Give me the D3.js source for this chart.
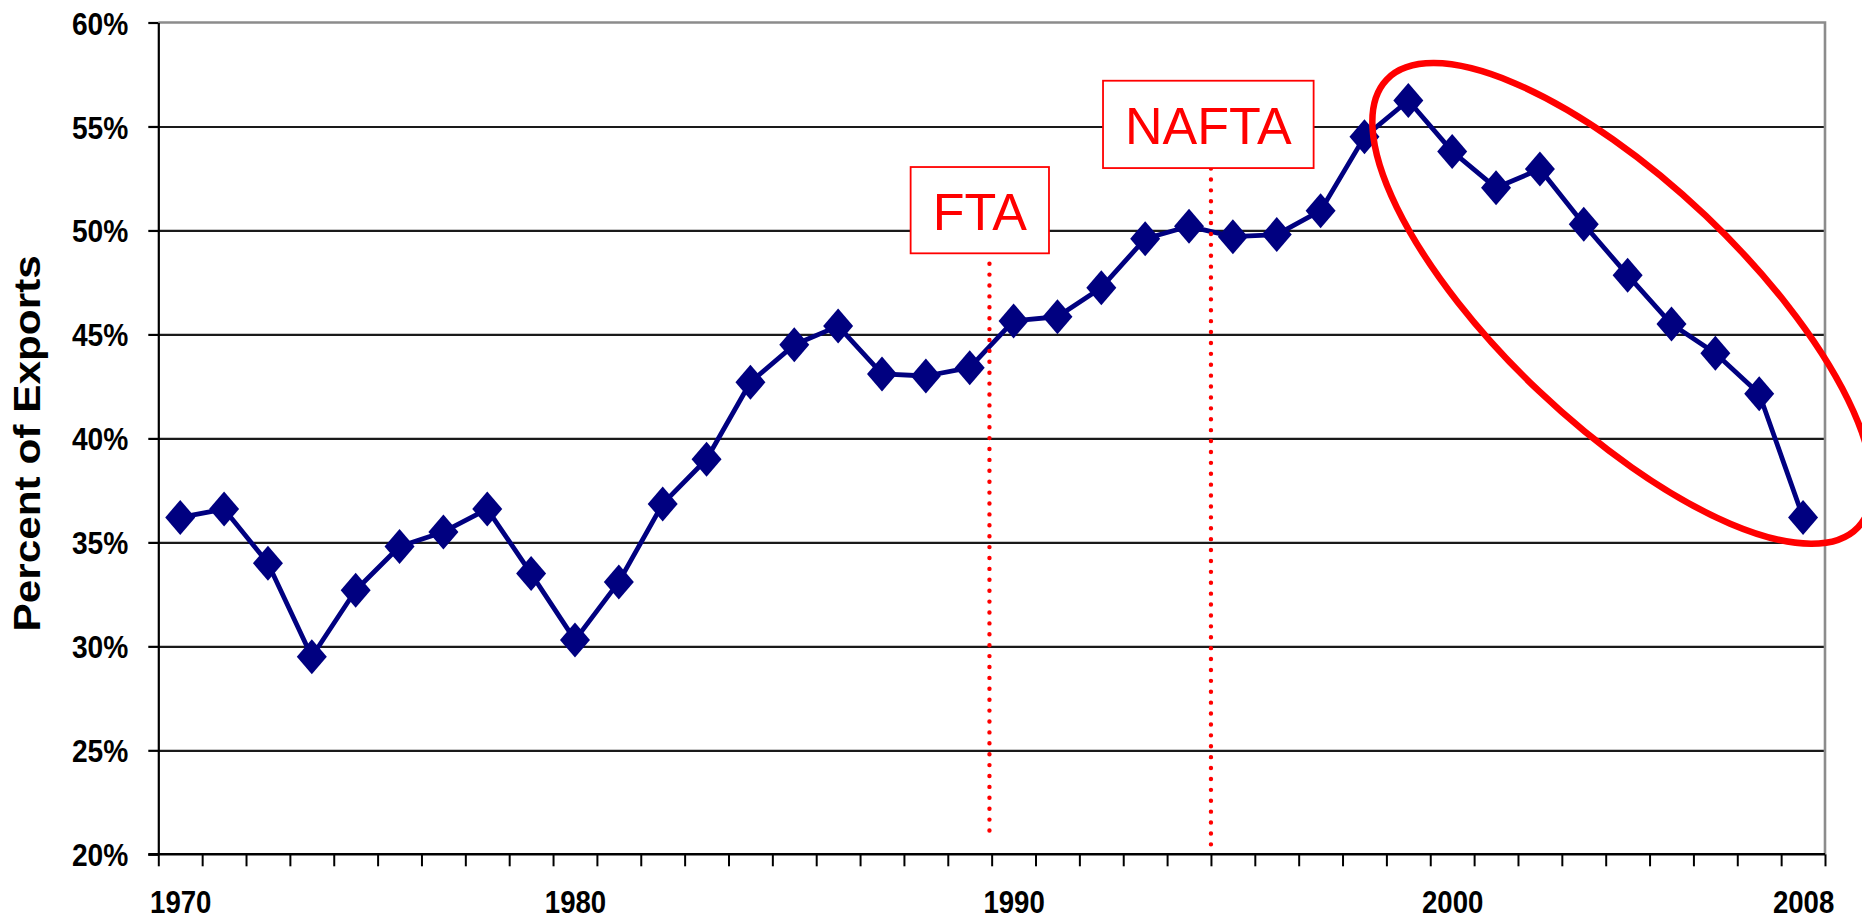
<!DOCTYPE html>
<html><head><meta charset="utf-8">
<script src="https://cdn.jsdelivr.net/npm/d3@7"></script>
<style>html,body{margin:0;padding:0;background:#fff;overflow:hidden}</style>
</head><body>
<svg id="chart" width="1862" height="920"></svg>
<script>
// ---- data ----
const years = [1971,1972,1973,1974,1975,1976,1977,1978,1979,1980,
  1981,1982,1983,1984,1985,1986,1987,1988,1989,1990,
  1991,1992,1993,1994,1995,1996,1997,1998,1999,2000,
  2001,2002,2003,2004,2005,2006,2007,2008];
const exportShare = [36.2,36.6,34.0,29.5,32.7,34.8,35.5,36.6,33.5,30.3,
  33.1,36.85,39.0,42.7,44.5,45.4,43.1,43.0,43.4,45.65,
  45.85,47.25,49.6,50.2,49.7,49.8,50.95,54.5,56.25,53.8,
  52.05,52.95,50.3,47.85,45.5,44.1,42.15,36.2];
const yTicks = [20,25,30,35,40,45,50,55,60];
const xTickYears = [1971,1980,1990,2000,2008];
const xTickLabels = ["1970","1980","1990","2000","2008"];
const eventNames = ["FTA","NAFTA"];
const eventYears = [1989.45,1994.5];
const eventLineTop = [48.4,54.55];
const eventLineBottom = [20.9,20.2];
const eventBoxTop = [53.05,57.2];
const eventBoxBottom = [48.9,53.0];
const eventBoxYear = [1989.23,1994.44];
const yTitle = "Percent of Exports";
const highlightCenter = [2003.88,46.49];

// ---- layout ----
const W = 1862, H = 920;
const L = 158.3, R = 1825, T = 22.5, B = 854.3;
const FONT = "'Liberation Sans', Arial, Helvetica, sans-serif";
const svg = d3.select("#chart");
svg.append("rect").attr("width",W).attr("height",H).attr("fill","#fff");

const x = d3.scaleLinear().domain([years[0]-0.5, years[years.length-1]+0.5]).range([L,R]);
const y = d3.scaleLinear().domain([yTicks[0], yTicks[yTicks.length-1]]).range([B,T]);

// gridlines
const grid = svg.append("g").attr("transform",`translate(${L},0)`)
  .call(d3.axisLeft(y).tickValues(yTicks.slice(1,-1)).tickSize(-(R-L)).tickFormat(""));
grid.select(".domain").remove();
grid.selectAll("line").attr("stroke","#1a1a1a").attr("stroke-width",2.2);

// plot border top/right (gray)
svg.append("path")
  .attr("d",`M${L},${y(yTicks[yTicks.length-1])}H${R}V${B}`)
  .attr("fill","none").attr("stroke","#8c8c8c").attr("stroke-width",2.6);

// y axis
const yAx = svg.append("g").attr("transform",`translate(${L},0)`)
  .call(d3.axisLeft(y).tickValues(yTicks).tickSize(10).tickSizeOuter(0).tickFormat(d=>d+"%"));
yAx.select(".domain").attr("stroke","#000").attr("stroke-width",2.2);
yAx.selectAll(".tick line").attr("stroke","#000").attr("stroke-width",2.2);
yAx.selectAll(".tick text")
  .attr("x",0).attr("dy","0.36em")
  .attr("transform","translate(-30,0) scale(0.88,1)")
  .attr("text-anchor","end")
  .attr("font-family",FONT).attr("font-weight","bold").attr("font-size",32).attr("fill","#000");

// x axis tick marks at category boundaries
const bounds = years.map(v=>v-0.5).concat([years[years.length-1]+0.5]);
const xAx = svg.append("g").attr("transform",`translate(0,${B})`)
  .call(d3.axisBottom(x).tickValues(bounds).tickSize(12).tickSizeOuter(0).tickFormat(""));
xAx.select(".domain").attr("stroke","#000").attr("stroke-width",2.6)
  .attr("d",`M${L-10},0H${R}`);
xAx.selectAll(".tick line").attr("stroke","#000").attr("stroke-width",2);

// x labels
const xLab = svg.append("g").attr("transform",`translate(0,${B})`)
  .call(d3.axisBottom(x).tickValues(xTickYears).tickSize(0)
    .tickFormat((d,i)=>xTickLabels[i]));
xLab.select(".domain").remove();
xLab.selectAll(".tick text")
  .attr("y",0).attr("dy",0)
  .attr("transform","translate(0,59) scale(0.89,1)")
  .attr("text-anchor","middle")
  .attr("font-family",FONT).attr("font-weight","bold").attr("font-size",31).attr("fill","#000");

// y title
svg.append("text")
  .attr("transform",`translate(40,${(T+B)/2+5}) rotate(-90) scale(1.16,1)`)
  .attr("text-anchor","middle")
  .attr("font-family",FONT).attr("font-weight","bold").attr("font-size",36.5).attr("fill","#000")
  .text(yTitle);

// series
const pts = years.map((yr,i)=>({yr, v: exportShare[i]}));
svg.append("path").datum(pts)
  .attr("d",d3.line().x(d=>x(d.yr)).y(d=>y(d.v)))
  .attr("fill","none").attr("stroke","#000080").attr("stroke-width",4.8).attr("stroke-linejoin","round");
const hw = 15, hh = 17.5;
svg.append("g").selectAll("path").data(pts).join("path")
  .attr("d",d=>{const cx=x(d.yr), cy=y(d.v);
    return `M${cx},${cy-hh}L${cx+hw},${cy}L${cx},${cy+hh}L${cx-hw},${cy}Z`;})
  .attr("fill","#000080");

// event annotations
eventNames.forEach((name,i)=>{
  const lx = x(eventYears[i]);
  svg.append("line")
    .attr("x1",lx).attr("x2",lx)
    .attr("y1",y(eventLineTop[i])).attr("y2",y(eventLineBottom[i]))
    .attr("stroke","#ff0000").attr("stroke-width",4.4)
    .attr("stroke-linecap","round").attr("stroke-dasharray","0 10.9");
  const g = svg.append("g");
  const rect = g.append("rect");
  const cx = x(eventBoxYear[i]);
  const top = y(eventBoxTop[i]), bot = y(eventBoxBottom[i]);
  const t = g.append("text")
    .attr("x",cx).attr("y",top+ (bot-top)*0.73)
    .attr("text-anchor","middle")
    .attr("font-family",FONT).attr("font-size",52).attr("fill","#ff0000")
    .text(name);
  const bw = t.node().getComputedTextLength() + 44;
  rect.attr("x",cx-bw/2).attr("y",top).attr("width",bw).attr("height",bot-top)
    .attr("fill","#fff").attr("stroke","#ff0000").attr("stroke-width",1.8);
});

// highlight ellipse
svg.append("ellipse")
  .attr("transform",`translate(${x(highlightCenter[0])},${y(highlightCenter[1])}) rotate(43.5)`)
  .attr("rx",325).attr("ry",121)
  .attr("fill","none").attr("stroke","#ff0000").attr("stroke-width",6.5);
</script>
</body></html>
